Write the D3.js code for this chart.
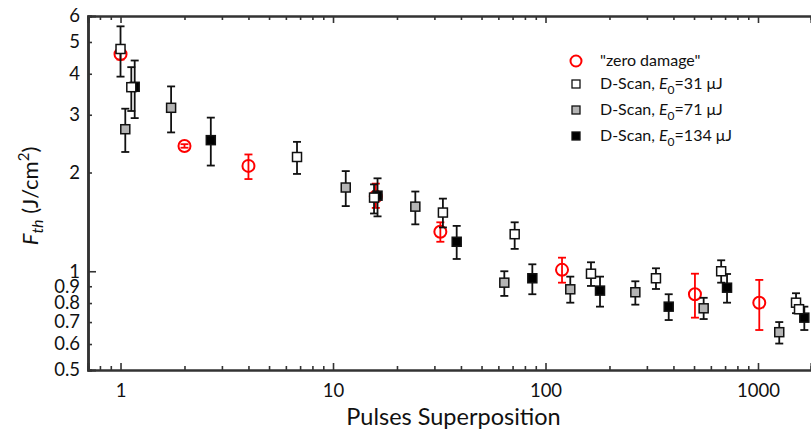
<!DOCTYPE html>
<html>
<head>
<meta charset="utf-8">
<script src="https://cdn.jsdelivr.net/npm/d3@7"></script>
<style>
  body { margin: 0; background: #fff; }
  svg { font-family: Lato, "Open Sans", sans-serif; }
</style>
</head>
<body>
<div id="chart"></div>
<script>
// [pulses, Fth, lower, upper]
const zeroDamage = [
  [1.0, 4.59, 4.42, 4.78], [2.0, 2.41, 2.38, 2.44], [4.0, 2.095, 1.91, 2.27],
  [15.9, 1.69, 1.56, 1.85], [32.0, 1.32, 1.23, 1.41], [119.6, 1.01, 0.923, 1.10],
  [505, 0.851, 0.722, 0.983], [1014, 0.802, 0.662, 0.941]
];
const scan31 = [
  [1.0, 4.76, 3.92, 5.58], [1.124, 3.64, 3.08, 4.19], [6.77, 2.23, 1.98, 2.48],
  [15.6, 1.677, 1.50, 1.84], [32.9, 1.51, 1.36, 1.665], [71.6, 1.297, 1.17, 1.41],
  [163.7, 0.983, 0.902, 1.065], [331, 0.952, 0.883, 1.021], [671, 1.0, 0.923, 1.08],
  [1510, 0.802, 0.745, 0.857], [1560, 0.766, 0.745, 0.79]
];
const scan71 = [
  [1.053, 2.71, 2.31, 3.13], [1.73, 3.15, 2.65, 3.66], [11.48, 1.80, 1.58, 2.02],
  [24.4, 1.574, 1.39, 1.75], [64.0, 0.923, 0.841, 1.0], [130.8, 0.881, 0.802, 0.963],
  [264.7, 0.863, 0.791, 0.932], [555, 0.771, 0.715, 0.83], [1259, 0.652, 0.602, 0.70]
];
const scan134 = [
  [1.166, 3.65, 2.93, 4.39], [2.66, 2.51, 2.10, 2.94], [16.2, 1.70, 1.47, 1.92],
  [38.2, 1.23, 1.09, 1.375], [86.7, 0.952, 0.851, 1.05], [180.5, 0.873, 0.78, 0.963],
  [380, 0.78, 0.71, 0.851], [715, 0.891, 0.802, 0.981], [1652, 0.722, 0.662, 0.78]
];
const xTickLabels = [1, 10, 100, 1000];
const yTickLabels = [0.5, 0.6, 0.7, 0.8, 0.9, 1, 2, 3, 4, 5, 6];
const legendLabels = ['"zero damage"', "31", "71", "134"];

function initChart(selector) {
  const width = 811, height = 435;
  const plot = {left: 88, right: 811, top: 16, bottom: 370};
  const axisColor = "#333";

  const svg = d3.select(selector).append("svg")
      .attr("width", width)
      .attr("height", height);

  const xScale = d3.scaleLog().domain([0.703, 1776]).range([plot.left, plot.right]);
  const yScale = d3.scaleLog().domain([0.5, 6]).range([plot.bottom, plot.top]);

  const xMinor = xScale.ticks().filter(v => !xTickLabels.includes(v));
  const yMinor = yScale.ticks().filter(v => v !== 1);

  // bottom axis
  const bottom = svg.append("g").attr("transform", `translate(0,${plot.bottom})`);
  bottom.append("g")
      .call(d3.axisBottom(xScale).tickValues(xMinor).tickSize(-4).tickFormat(""));
  bottom.append("g")
      .call(d3.axisBottom(xScale).tickValues(xTickLabels).tickSize(-7).tickPadding(14).tickFormat(d3.format("d")));
  // top axis
  const top = svg.append("g").attr("transform", `translate(0,${plot.top})`);
  top.append("g")
      .call(d3.axisTop(xScale).tickValues(xMinor).tickSize(-4).tickFormat(""));
  top.append("g")
      .call(d3.axisTop(xScale).tickValues(xTickLabels).tickSize(-7).tickFormat(""));
  // left axis
  const left = svg.append("g").attr("transform", `translate(${plot.left},0)`);
  left.append("g")
      .call(d3.axisLeft(yScale).tickValues(yMinor).tickSize(-4).tickFormat(""));
  left.append("g")
      .call(d3.axisLeft(yScale).tickValues(yTickLabels).tickSize(0).tickPadding(8).tickFormat(d => String(d)));
  left.append("g")
      .call(d3.axisLeft(yScale).tickValues([1]).tickSize(-8).tickFormat(""));

  svg.selectAll(".domain").attr("stroke", axisColor).attr("stroke-width", 2.2);
  svg.selectAll(".tick line").attr("stroke", axisColor).attr("stroke-width", 1.6);
  svg.selectAll(".tick text").attr("font-size", 18.5).attr("fill", "#111")
      .attr("font-family", "Lato, sans-serif");

  // axis titles
  svg.append("text")
      .attr("x", (plot.left + plot.right) / 2 + 4)
      .attr("y", 425)
      .attr("text-anchor", "middle")
      .attr("font-size", 23.5)
      .attr("fill", "#111")
      .text("Pulses Superposition");

  const yTitle = svg.append("text")
      .attr("transform", "translate(38,196) rotate(-90)")
      .attr("text-anchor", "middle")
      .attr("font-size", 22)
      .attr("fill", "#111");
  yTitle.append("tspan").attr("font-style", "italic").text("F");
  yTitle.append("tspan").attr("font-style", "italic").attr("font-size", 16).attr("dy", 5).text("th");
  yTitle.append("tspan").attr("dy", -5).text(" (J/cm");
  yTitle.append("tspan").attr("font-size", 15).attr("dy", -9).text("2");
  yTitle.append("tspan").attr("dy", 9).text(")");

  // error bars + markers
  const cap = 4;
  function drawErrors(data, color) {
    const g = svg.append("g").attr("stroke", color).attr("stroke-width", 1.8).attr("fill", "none");
    data.forEach(d => {
      const x = xScale(d[0]);
      g.append("line").attr("x1", x).attr("x2", x).attr("y1", yScale(d[2])).attr("y2", yScale(d[3]));
      g.append("line").attr("x1", x - cap).attr("x2", x + cap).attr("y1", yScale(d[2])).attr("y2", yScale(d[2]));
      g.append("line").attr("x1", x - cap).attr("x2", x + cap).attr("y1", yScale(d[3])).attr("y2", yScale(d[3]));
    });
  }
  function drawSquares(data, fill) {
    drawErrors(data, "#111");
    svg.append("g").selectAll("rect").data(data).join("rect")
        .attr("x", d => xScale(d[0]) - 4.5)
        .attr("y", d => yScale(d[1]) - 4.5)
        .attr("width", 9).attr("height", 9)
        .attr("fill", fill).attr("stroke", "#111").attr("stroke-width", 1.5);
  }

  drawErrors(zeroDamage, "#f00");
  svg.append("g").selectAll("circle").data(zeroDamage).join("circle")
      .attr("cx", d => xScale(d[0]))
      .attr("cy", d => yScale(d[1]))
      .attr("r", 6)
      .attr("fill", "none").attr("stroke", "#f00").attr("stroke-width", 2);

  drawSquares(scan71, "#b4b4b4");
  drawSquares(scan134, "#000");
  drawSquares(scan31, "#fff");

  // legend
  const legend = svg.append("g").attr("font-size", 16).attr("fill", "#111");
  const rows = [61, 84, 110, 136];
  legend.append("circle").attr("cx", 576).attr("cy", rows[0]).attr("r", 5.5)
      .attr("fill", "none").attr("stroke", "#f00").attr("stroke-width", 2);
  legend.append("text").attr("x", 600).attr("y", rows[0] + 5).text(legendLabels[0]);
  const fills = ["#fff", "#b4b4b4", "#000"];
  legendLabels.slice(1).forEach((lab, i) => {
    const y = rows[i + 1];
    legend.append("rect").attr("x", 572).attr("y", y - 4).attr("width", 8).attr("height", 8)
        .attr("fill", fills[i]).attr("stroke", "#111").attr("stroke-width", 1.3);
    const t = legend.append("text").attr("x", 600).attr("y", y + 5);
    t.append("tspan").text("D-Scan, ");
    t.append("tspan").attr("font-style", "italic").text("E");
    t.append("tspan").attr("font-size", 12).attr("dy", 5).text("0");
    t.append("tspan").attr("dy", -5).text("=" + lab + " \u03bcJ");
  });
}

document.addEventListener("DOMContentLoaded", function () {
  initChart("#chart");
});
</script>
</body>
</html>
